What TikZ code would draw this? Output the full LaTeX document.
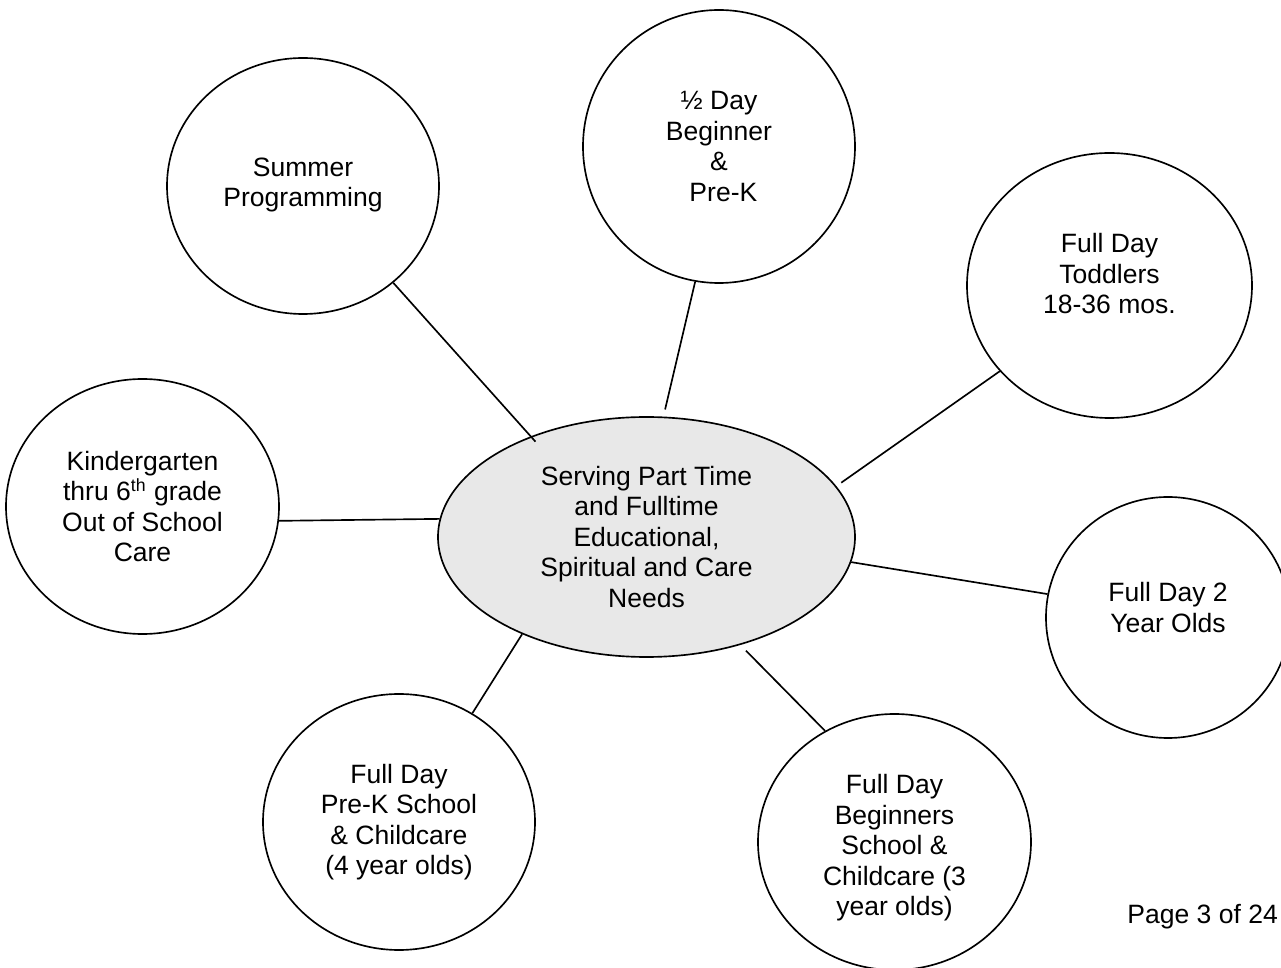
\documentclass[tikz,border=0pt]{standalone}
\usepackage{fontspec}
\setmainfont{Liberation Sans}
\usepackage{xcolor}
\usetikzlibrary{backgrounds,shapes.geometric}
\definecolor{grismoyeu}{RGB}{232,232,232}
\newcommand{\pxu}{0.4525pt}
\newcommand{\cale}[1]{\rule[-#1]{0pt}{#1}}

\begin{document}
\begin{tikzpicture}[%
    x=\pxu, y=-\pxu,%
    show background rectangle,%
    tight background,%
    background rectangle/.style={fill=white}%
  ]
  % Carte des services

  %
  % Définitions
  %
  \tikzset{
    bulle/.style={ellipse, draw, line width=0.75pt, fill=white, inner sep=0pt,
      align=center, font=\fontsize{12}{13.8}\selectfont},
    moyeu/.style={bulle, fill=grismoyeu},
    liaison/.style={line width=0.75pt},
  }
  \pgfmathsetmacro{\xhub}{646.5};%
  \pgfmathsetmacro{\yhub}{537};%
  \pgfmathsetmacro{\xete}{303};%
  \pgfmathsetmacro{\yete}{186};%
  \pgfmathsetmacro{\xdemi}{719};%
  \pgfmathsetmacro{\ydemi}{146.5};%
  \pgfmathsetmacro{\xtod}{1109.5};%
  \pgfmathsetmacro{\ytod}{285.5};%
  \pgfmathsetmacro{\xkin}{142.5};%
  \pgfmathsetmacro{\ykin}{506.5};%
  \pgfmathsetmacro{\xdeux}{1168};%
  \pgfmathsetmacro{\ydeux}{617.5};%
  \pgfmathsetmacro{\xpre}{399};%
  \pgfmathsetmacro{\ypre}{822};%
  \pgfmathsetmacro{\xbeg}{894.5};%
  \pgfmathsetmacro{\ybeg}{842};%

  \useasboundingbox (0,0) rectangle (1281,968);%

  %
  % Dessin
  %
  % Bulle centrale
  \node[moyeu, minimum width=417*\pxu, minimum height=240*\pxu] (hub) at (\xhub,\yhub)
    {Serving Part Time\\and Fulltime\\Educational,\\Spiritual and Care\\Needs};%

  % Bulles autour
  \node[bulle, minimum width=272*\pxu, minimum height=256*\pxu] (ete) at (\xete,\yete)
    {Summer\\Programming\cale{3.6pt}};%
  \node[bulle, minimum width=272*\pxu, minimum height=273*\pxu] (demi) at (\xdemi,\ydemi)
    {½ Day\\Beginner\\\&\\\hspace*{0.33em}Pre-K};%
  \node[bulle, minimum width=285*\pxu, minimum height=265*\pxu] (tod) at (\xtod,\ytod)
    {Full Day\\Toddlers\\18-36 mos.\cale{10.9pt}};%
  \node[bulle, minimum width=273*\pxu, minimum height=255*\pxu] (kin) at (\xkin,\ykin)
    {Kindergarten\\thru 6\textsuperscript{th} grade\\Out of School\\Care};%
  \node[bulle, minimum width=244*\pxu, minimum height=241*\pxu] (deux) at (\xdeux,\ydeux)
    {Full Day 2\\Year Olds\cale{9pt}};%
  \node[bulle, minimum width=272*\pxu, minimum height=256*\pxu] (pre) at (\xpre,\ypre)
    {Full Day\\Pre-K School\\\& Childcare\\(4 year olds)};%
  \node[bulle, minimum width=273*\pxu, minimum height=256*\pxu] (beg) at (\xbeg,\ybeg)
    {\rule{0pt}{14.2pt}Full Day\\Beginners\\School \&\\Childcare (3\\year olds)};%

  % Liaisons
  \draw[liaison, shorten >=-3.2pt] (ete.-47.5) -- (hub.139.6);%
  \draw[liaison, shorten >=3.3pt] (demi.-100) -- (hub.82.6);%
  \draw[liaison, shorten >=2.7pt] (tod.-142.2) -- (hub.15.9);%
  \draw[liaison] (kin.-6.5) -- (hub.175.9);%
  \draw[liaison] (hub.-7.1) -- (deux.169);%
  \draw[liaison] (hub.-142.7) -- (pre.56.4);%
  \draw[liaison, shorten <=3.6pt] (hub.-49.7) -- (beg.122.6);%

  % Pied de page
  \node[anchor=base west, inner sep=0pt, font=\fontsize{12}{13.8}\selectfont] (page) at (1127,924)
    {Page 3 of 24};%

\end{tikzpicture}
\end{document}
